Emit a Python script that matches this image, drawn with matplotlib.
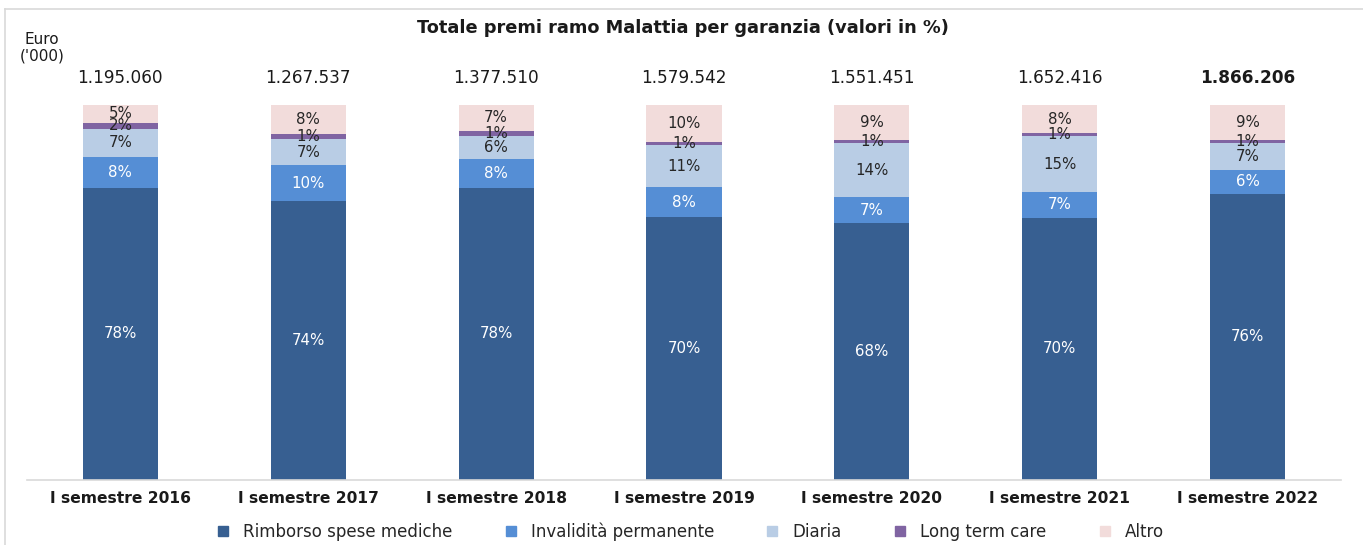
import matplotlib
matplotlib.use("Agg")
import matplotlib.pyplot as plt
from matplotlib.lines import Line2D
import numpy as np

categories = ["I semestre 2016", "I semestre 2017", "I semestre 2018", "I semestre 2019",
              "I semestre 2020", "I semestre 2021", "I semestre 2022"]
totals = ["1.195.060", "1.267.537", "1.377.510", "1.579.542", "1.551.451", "1.652.416", "1.866.206"]
rimborso = [77.9, 74.4, 77.9, 70.1, 68.45, 69.9, 76.4]
invalidita = [8.3, 9.6, 7.7, 8.0, 6.9, 6.9, 6.2]
diaria = [7.4, 6.9, 6.1, 11.2, 14.4, 14.9, 7.2]
ltc = [1.6, 1.3, 1.4, 0.8, 0.8, 0.8, 0.8]
altro = [4.8, 7.8, 6.9, 9.9, 9.45, 7.5, 9.4]

series = [
    ("Rimborso spese mediche", rimborso, "#375F91", "white"),
    ("Invalidità permanente", invalidita, "#558ED5", "white"),
    ("Diaria", diaria, "#B9CDE5", "#262626"),
    ("Long term care", ltc, "#8064A2", "#262626"),
    ("Altro", altro, "#F2DCDB", "#262626"),
]

W, H = 1363, 545
fig = plt.figure(figsize=(W / 100, H / 100), dpi=100)
ax = fig.add_axes([26.5 / W, 1 - 480 / H, (1341.5 - 26.5) / W, 375 / H])

x = np.arange(len(categories))
bottom = np.zeros(len(categories))
handles = []
for name, vals, color, tcolor in series:
    vals = np.array(vals)
    ax.bar(x, vals, 0.4, bottom=bottom, color=color, edgecolor="none")
    for xi, b, v in zip(x, bottom, vals):
        ax.text(xi, b + v / 2, f"{round(v)}%", ha="center", va="center",
                fontsize=10.8, color=tcolor)
    bottom += vals
    handles.append(Line2D([], [], marker="s", linestyle="none", markersize=7.5,
                          markerfacecolor=color, markeredgecolor=color, label=name))

for xi, t in zip(x, totals):
    ax.text(xi, 107.2, t, ha="center", va="center", fontsize=12.2, color="#1a1a1a",
            fontweight="bold" if xi == len(x) - 1 else "normal", clip_on=False)

ax.set_xlim(-0.5, len(categories) - 0.5)
ax.set_ylim(0, 100)
ax.set_yticks([])
ax.set_xticks(x)
ax.set_xticklabels(categories, fontsize=11.2, fontweight="bold", color="#1a1a1a")
ax.tick_params(axis="x", length=0, pad=8)
for s in ["top", "right", "left"]:
    ax.spines[s].set_visible(False)
ax.spines["bottom"].set_color("#D9D9D9")
ax.spines["bottom"].set_linewidth(1.2)

fig.text(683 / W, 1 - 28 / H, "Totale premi ramo Malattia per garanzia (valori in %)",
         ha="center", va="center", fontsize=12.8, fontweight="bold", color="#1a1a1a")
fig.text(42 / W, 1 - 39 / H, "Euro", ha="center", va="center", fontsize=11, color="#1a1a1a")
fig.text(42 / W, 1 - 56 / H, "('000)", ha="center", va="center", fontsize=11, color="#1a1a1a")

fig.legend(handles=handles, loc="center", bbox_to_anchor=(690 / W, 1 - 532 / H),
           ncol=5, frameon=False, fontsize=12, handlelength=0.8, handletextpad=0.8,
           columnspacing=3.1, labelcolor="#262626")

fig.add_artist(Line2D([5 / W, 1], [1 - 9 / H, 1 - 9 / H], color="#D9D9D9", linewidth=1.2,
                      transform=fig.transFigure))
fig.add_artist(Line2D([5 / W, 5 / W], [0, 1 - 9 / H], color="#D9D9D9", linewidth=1.2,
                      transform=fig.transFigure))

fig.savefig("out.png", dpi=100)
